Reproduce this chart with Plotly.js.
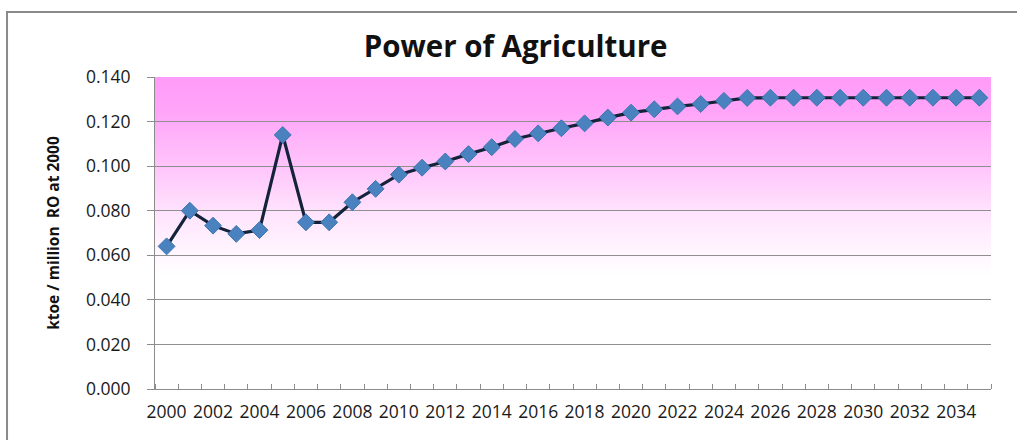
<!DOCTYPE html>
<html>
<head>
<meta charset="utf-8">
<script src="https://cdn.plot.ly/plotly-3.0.1.min.js"></script>
<style>
  html, body { margin: 0; padding: 0; background: #ffffff; }
  #chart { width: 1017px; height: 440px; }
</style>
</head>
<body>
<div id="chart"></div>
<script>
// Energy intensity of agriculture, ktoe per million RO (constant 2000 prices)
const years = [2000, 2001, 2002, 2003, 2004, 2005, 2006, 2007, 2008, 2009,
               2010, 2011, 2012, 2013, 2014, 2015, 2016, 2017, 2018, 2019,
               2020, 2021, 2022, 2023, 2024, 2025, 2026, 2027, 2028, 2029,
               2030, 2031, 2032, 2033, 2034, 2035];
const intensity = [0.064, 0.080, 0.0733, 0.0696, 0.0713, 0.114, 0.0748, 0.0748, 0.0838, 0.0898,
                   0.0962, 0.0993, 0.1021, 0.1054, 0.1085, 0.1122, 0.1147, 0.1170, 0.1192, 0.1218,
                   0.1240, 0.1255, 0.1268, 0.1279, 0.1293, 0.1306, 0.1307, 0.1307, 0.1307, 0.1307,
                   0.1307, 0.1307, 0.1307, 0.1307, 0.1307, 0.1307];
const yTickValues = [0, 0.02, 0.04, 0.06, 0.08, 0.10, 0.12, 0.14];
const xTickYears = [2000, 2002, 2004, 2006, 2008, 2010, 2012, 2014, 2016, 2018,
                    2020, 2022, 2024, 2026, 2028, 2030, 2032, 2034];

const chartTitle = 'Power of Agriculture';
const yTitle = 'ktoe / million  RO at 2000';

// vertical pink-to-white wash behind the plot area
const washSvg =
  '<svg xmlns="http://www.w3.org/2000/svg" width="100" height="100" preserveAspectRatio="none">' +
  '<defs><linearGradient id="g" x1="0" y1="0" x2="0" y2="1">' +
  '<stop offset="0" stop-color="#ff9bf8"/>' +
  '<stop offset="0.12" stop-color="#ffa6f9"/>' +
  '<stop offset="0.28" stop-color="#ffc3fb"/>' +
  '<stop offset="0.42" stop-color="#ffe0fd"/>' +
  '<stop offset="0.56" stop-color="#fff6fe"/>' +
  '<stop offset="0.64" stop-color="#ffffff"/>' +
  '<stop offset="1" stop-color="#ffffff"/>' +
  '</linearGradient></defs>' +
  '<rect width="100" height="100" fill="url(#g)"/></svg>';
const washUri = 'data:image/svg+xml;base64,' + btoa(washSvg);

const font = '"Open Sans", Lato, "Liberation Sans", sans-serif';

const trace = {
  type: 'scatter',
  mode: 'lines+markers',
  x: years,
  y: intensity,
  line: { color: '#14233a', width: 3.2 },
  marker: {
    symbol: 'diamond',
    size: 13,
    color: '#4a82bf',
    line: { color: '#3d75b0', width: 1 }
  },
  hoverinfo: 'x+y',
  showlegend: false
};

const layout = {
  width: 1017,
  height: 440,
  margin: { l: 155, r: 26, t: 77, b: 51, pad: 0 },
  paper_bgcolor: '#ffffff',
  plot_bgcolor: 'rgba(0,0,0,0)',
  font: { family: font, color: '#1a1a1a' },
  title: {
    text: '<b>' + chartTitle + '</b>',
    font: { family: font, size: 29.5, color: '#111111' },
    xref: 'container', x: 0.507, xanchor: 'center',
    yref: 'container', y: 0.894, yanchor: 'middle'
  },
  xaxis: {
    range: [1999.5, 2035.5],
    tickmode: 'array',
    tickvals: xTickYears,
    ticktext: xTickYears.map(String),
    ticks: '',
    ticklabelstandoff: 7,
    tickfont: { family: font, size: 17.5, color: '#1a1a1a' },
    showgrid: false,
    zeroline: false,
    showline: true,
    linecolor: '#8c8c8c',
    linewidth: 1,
    minor: {
      tick0: 1999.5,
      dtick: 1,
      ticks: 'inside',
      ticklen: 5,
      tickcolor: '#8c8c8c',
      tickwidth: 1,
      showgrid: false
    }
  },
  yaxis: {
    range: [0, 0.14],
    tickmode: 'array',
    tickvals: yTickValues,
    ticktext: yTickValues.map(v => v.toFixed(3)),
    ticks: 'outside',
    ticklen: 7,
    tickcolor: '#8c8c8c',
    ticklabelstandoff: 13,
    tickfont: { family: font, size: 17.5, color: '#1a1a1a' },
    showgrid: true,
    gridcolor: '#8f8f8f',
    gridwidth: 1,
    zeroline: false,
    showline: true,
    linecolor: '#8c8c8c',
    linewidth: 1,
    title: {
      text: '<b>' + yTitle + '</b>',
      font: { family: font, size: 15.5, color: '#111111' },
      standoff: 22
    }
  },
  images: [{
    source: washUri,
    xref: 'paper', yref: 'paper',
    x: 0, y: 1, sizex: 1, sizey: 1,
    xanchor: 'left', yanchor: 'top',
    sizing: 'stretch',
    layer: 'below'
  }],
  shapes: [{
    type: 'rect',
    xref: 'paper', yref: 'paper',
    x0: -0.177, x1: 1.2, y0: -0.3, y1: 1.2083,
    line: { color: '#8a8a8a', width: 2 },
    fillcolor: 'rgba(0,0,0,0)',
    layer: 'below'
  }]
};

Plotly.newPlot('chart', [trace], layout, { displayModeBar: false, staticPlot: true });
</script>
</body>
</html>
